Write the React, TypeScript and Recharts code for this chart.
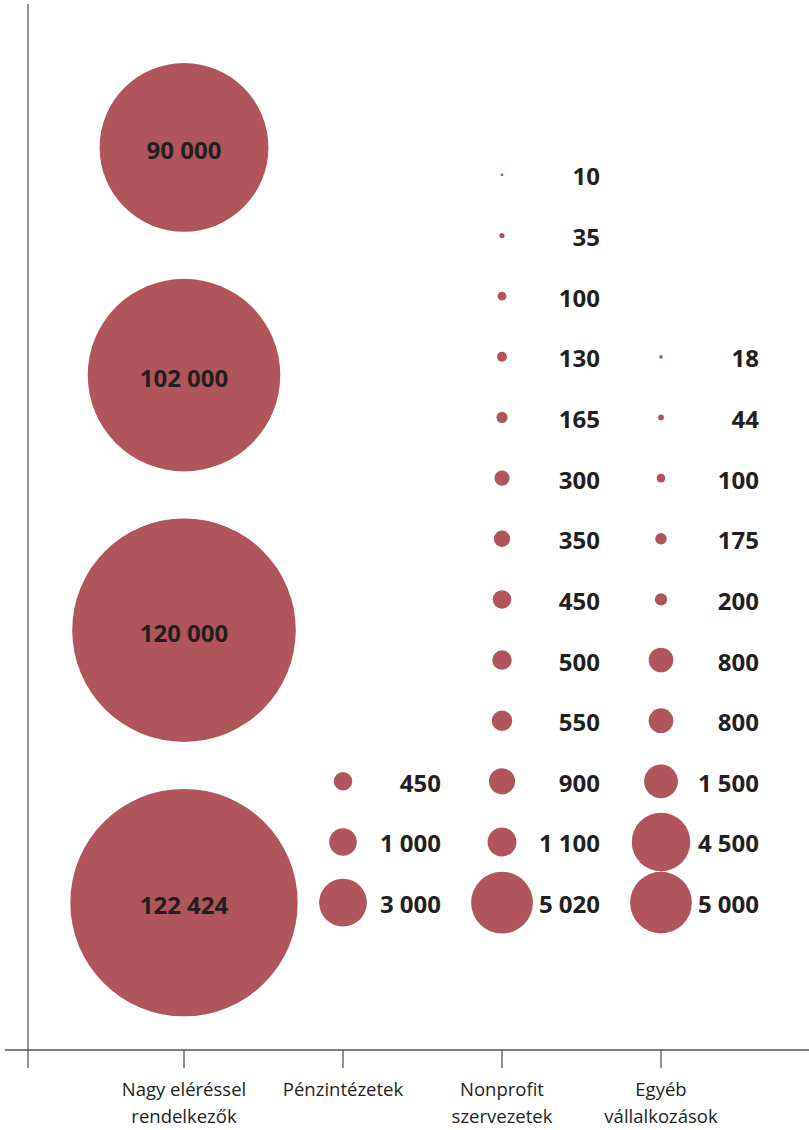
import { ReferenceLine, Scatter, ScatterChart, XAxis, YAxis, ZAxis } from 'recharts';

// category labels (x axis), one entry per line
const categories = [
  ['Nagy eléréssel', 'rendelkezők'],
  ['Pénzintézetek'],
  ['Nonprofit', 'szervezetek'],
  ['Egyéb', 'vállalkozások'],
];

// bubble values per column, listed top to bottom as drawn
const nagyEleresselValues = [90000, 102000, 120000, 122424];
const penzintezetekValues = [450, 1000, 3000];
const nonprofitValues = [10, 35, 100, 130, 165, 300, 350, 450, 500, 550, 900, 1100, 5020];
const egyebValues = [18, 44, 100, 175, 200, 800, 800, 1500, 4500, 5000];

const WIDTH = 809;
const HEIGHT = 1130;
const X_DOMAIN: [number, number] = [-0.1258, 4.9308];
const Y_AXIS_AT = 0.0189;
const Y_DOMAIN: [number, number] = [-2.43, 14.817];
const PX_PER_ROW = 60.65;
const BIG_Z_DOMAIN: [number, number] = [90000, 122424];
const BIG_Z_RANGE: [number, number] = [22383, 40608];
const SMALL_Z_DOMAIN: [number, number] = [0, 5020];
const SMALL_Z_RANGE: [number, number] = [0, 3000];
const BIG_GAP = 47;

const BUBBLE = '#b1555c';
const INK = '#231f20';
const AXIS = '#555555';
const FONT = '"Open Sans", "Noto Sans", sans-serif';

type Point = { x: number; y: number; value: number; big: boolean };

function bigRadius(v: number) {
  const [d0, d1] = BIG_Z_DOMAIN;
  const [r0, r1] = BIG_Z_RANGE;
  const area = r0 + ((v - d0) / (d1 - d0)) * (r1 - r0);
  return Math.sqrt(area / Math.PI);
}

// big column: bubbles stacked from the bottom with a fixed gap between them
function buildBig(values: number[], col: number): Point[] {
  const fromBottom = [...values].reverse();
  const pts: Point[] = [];
  let y = 0;
  fromBottom.forEach((v, i) => {
    if (i > 0) {
      y += (bigRadius(fromBottom[i - 1]) + bigRadius(v) + BIG_GAP) / PX_PER_ROW;
    }
    pts.push({ x: col, y, value: v, big: true });
  });
  return pts;
}

// small columns: one row per bubble, counted from the bottom
function buildRows(values: number[], col: number): Point[] {
  return values.map((v, i) => ({ x: col, y: values.length - 1 - i, value: v, big: false }));
}

const bigData = buildBig(nagyEleresselValues, 1);
const smallData = [
  ...buildRows(penzintezetekValues, 2),
  ...buildRows(nonprofitValues, 3),
  ...buildRows(egyebValues, 4),
];

function fmt(v: number) {
  return String(v).replace(/\B(?=(\d{3})+(?!\d))/g, ' ');
}

function Bubble(props: any) {
  const { cx, cy, size, payload } = props;
  const r = Math.sqrt(Math.max(size, 0) / Math.PI);
  return (
    <g>
      <circle cx={cx} cy={cy} r={r} fill={BUBBLE} />
      <text
        x={payload.big ? cx : cx + 98}
        y={cy + (payload.big ? 2 : 1)}
        textAnchor={payload.big ? 'middle' : 'end'}
        dominantBaseline="central"
        fontFamily={FONT}
        fontWeight={700}
        fontSize={24}
        fill={INK}
      >
        {fmt(payload.value)}
      </text>
    </g>
  );
}

function CategoryTick(props: any) {
  const { x, y, payload } = props;
  const idx = Math.round(payload.value);
  const lines = categories[idx - 1];
  if (!lines || Math.abs(payload.value - idx) > 0.001) return <g />;
  return (
    <text x={x} y={y} textAnchor="middle" fontFamily={FONT} fontSize={18.5} fill={INK}>
      {lines.map((line: string, i: number) => (
        <tspan key={i} x={x} dy={i === 0 ? 28 : 27}>
          {line}
        </tspan>
      ))}
    </text>
  );
}

export default function App() {
  return (
    <div style={{ position: 'absolute', left: 0, top: 0, width: WIDTH, height: HEIGHT, background: '#fff' }}>
      <ScatterChart width={WIDTH} height={HEIGHT} margin={{ top: 4, right: 0, bottom: 0, left: 5 }}>
        <XAxis
          type="number"
          dataKey="x"
          domain={X_DOMAIN}
          allowDataOverflow
          ticks={[Y_AXIS_AT, 1, 2, 3, 4]}
          interval={0}
          height={80}
          tickSize={18}
          tickMargin={0}
          stroke={AXIS}
          strokeWidth={1.3}
          tick={<CategoryTick />}
        />
        <YAxis type="number" dataKey="y" domain={Y_DOMAIN} allowDataOverflow hide />
        <ZAxis zAxisId="big" type="number" dataKey="value" domain={BIG_Z_DOMAIN} range={BIG_Z_RANGE} />
        <ZAxis zAxisId="small" type="number" dataKey="value" domain={SMALL_Z_DOMAIN} range={SMALL_Z_RANGE} />
        <ReferenceLine x={Y_AXIS_AT} stroke={AXIS} strokeWidth={1.3} ifOverflow="visible" />
        <Scatter data={bigData} zAxisId="big" shape={<Bubble />} isAnimationActive={false} />
        <Scatter data={smallData} zAxisId="small" shape={<Bubble />} isAnimationActive={false} />
      </ScatterChart>
    </div>
  );
}
